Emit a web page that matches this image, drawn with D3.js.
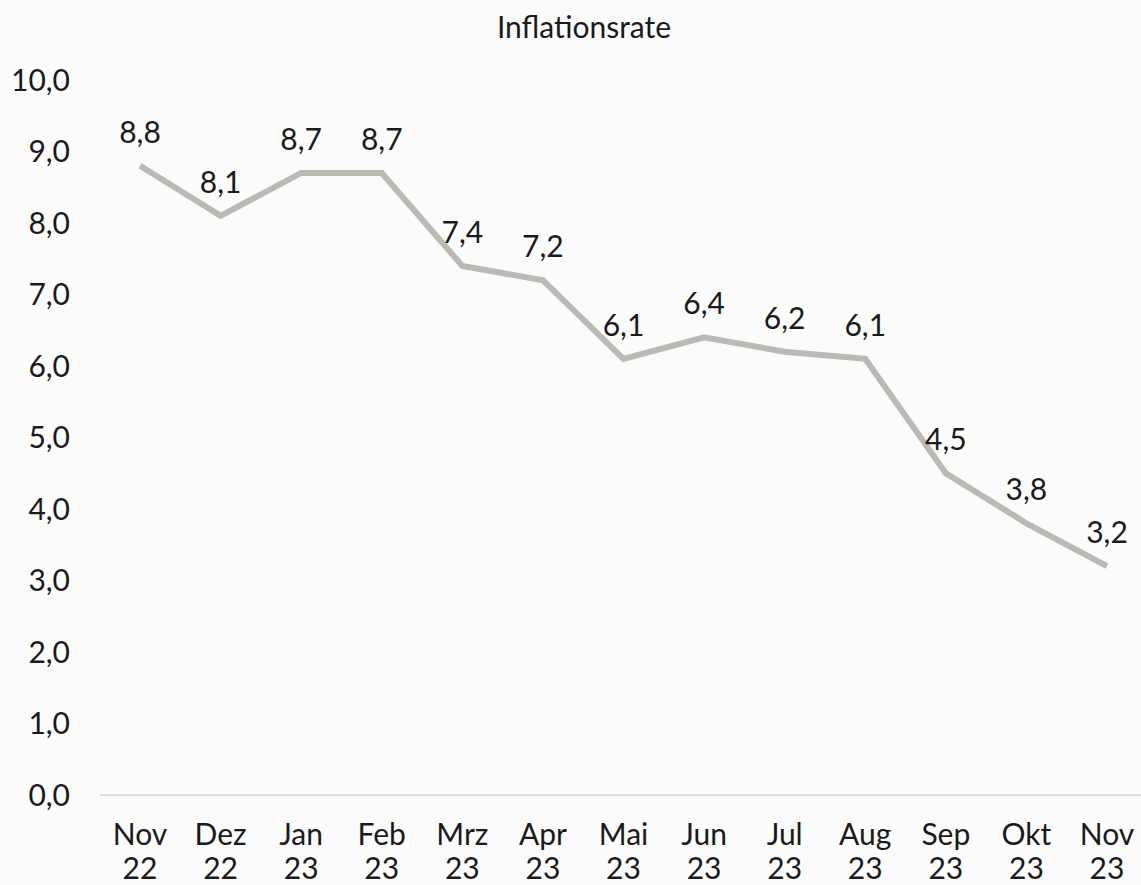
<!DOCTYPE html>
<html>
<head>
<meta charset="utf-8">
<script src="https://cdn.jsdelivr.net/npm/d3@7"></script>
<style>
  body { margin: 0; background: #fbfbfb; overflow: hidden; }
  text { font-family: Lato, "Open Sans", sans-serif; fill: #1a1a1a; }
</style>
</head>
<body>
<script>
const months = ["Nov", "Dez", "Jan", "Feb", "Mrz", "Apr", "Mai", "Jun", "Jul", "Aug", "Sep", "Okt", "Nov"];
const years = ["22", "22", "23", "23", "23", "23", "23", "23", "23", "23", "23", "23", "23"];
const rates = [8.8, 8.1, 8.7, 8.7, 7.4, 7.2, 6.1, 6.4, 6.2, 6.1, 4.5, 3.8, 3.2];
const yTicks = [0, 1, 2, 3, 4, 5, 6, 7, 8, 9, 10];

const width = 1141, height = 885;
const fmt = v => d3.format(".1f")(v).replace(".", ",");

const svg = d3.select("body").append("svg")
  .attr("width", width)
  .attr("height", height)
  .style("display", "block");

const x = d3.scalePoint()
  .domain(d3.range(rates.length))
  .range([140, 1107]);

const y = d3.scaleLinear()
  .domain([0, 10])
  .range([795, 80]);

svg.append("text")
  .attr("x", 584)
  .attr("y", 38)
  .attr("text-anchor", "middle")
  .style("font-size", "30px")
  .text("Inflationsrate");

// baseline
svg.append("line")
  .attr("x1", 100).attr("x2", width)
  .attr("y1", y(0)).attr("y2", y(0))
  .attr("stroke", "#e2dcdc")
  .attr("stroke-width", 2);

// y axis labels
svg.append("g")
  .selectAll("text")
  .data(yTicks)
  .join("text")
  .attr("x", 70)
  .attr("y", d => y(d))
  .attr("dy", "0.36em")
  .attr("text-anchor", "end")
  .style("font-size", "30px")
  .text(d => fmt(d));

// x axis labels, two lines each
const xl = svg.append("g")
  .selectAll("text")
  .data(months)
  .join("text")
  .attr("text-anchor", "middle")
  .style("font-size", "30px");
xl.append("tspan")
  .attr("x", (d, i) => x(i))
  .attr("y", 845)
  .text(d => d);
xl.append("tspan")
  .attr("x", (d, i) => x(i))
  .attr("y", 879)
  .text((d, i) => years[i]);

const line = d3.line()
  .x((d, i) => x(i))
  .y(d => y(d));

svg.append("path")
  .datum(rates)
  .attr("d", line)
  .attr("fill", "none")
  .attr("stroke", "#bcb8b4")
  .attr("stroke-width", 6)
  .attr("stroke-linejoin", "miter");

svg.append("g")
  .selectAll("text")
  .data(rates)
  .join("text")
  .attr("x", (d, i) => x(i))
  .attr("y", d => y(d) - 23)
  .attr("text-anchor", "middle")
  .style("font-size", "30px")
  .text(d => fmt(d));
</script>
</body>
</html>
